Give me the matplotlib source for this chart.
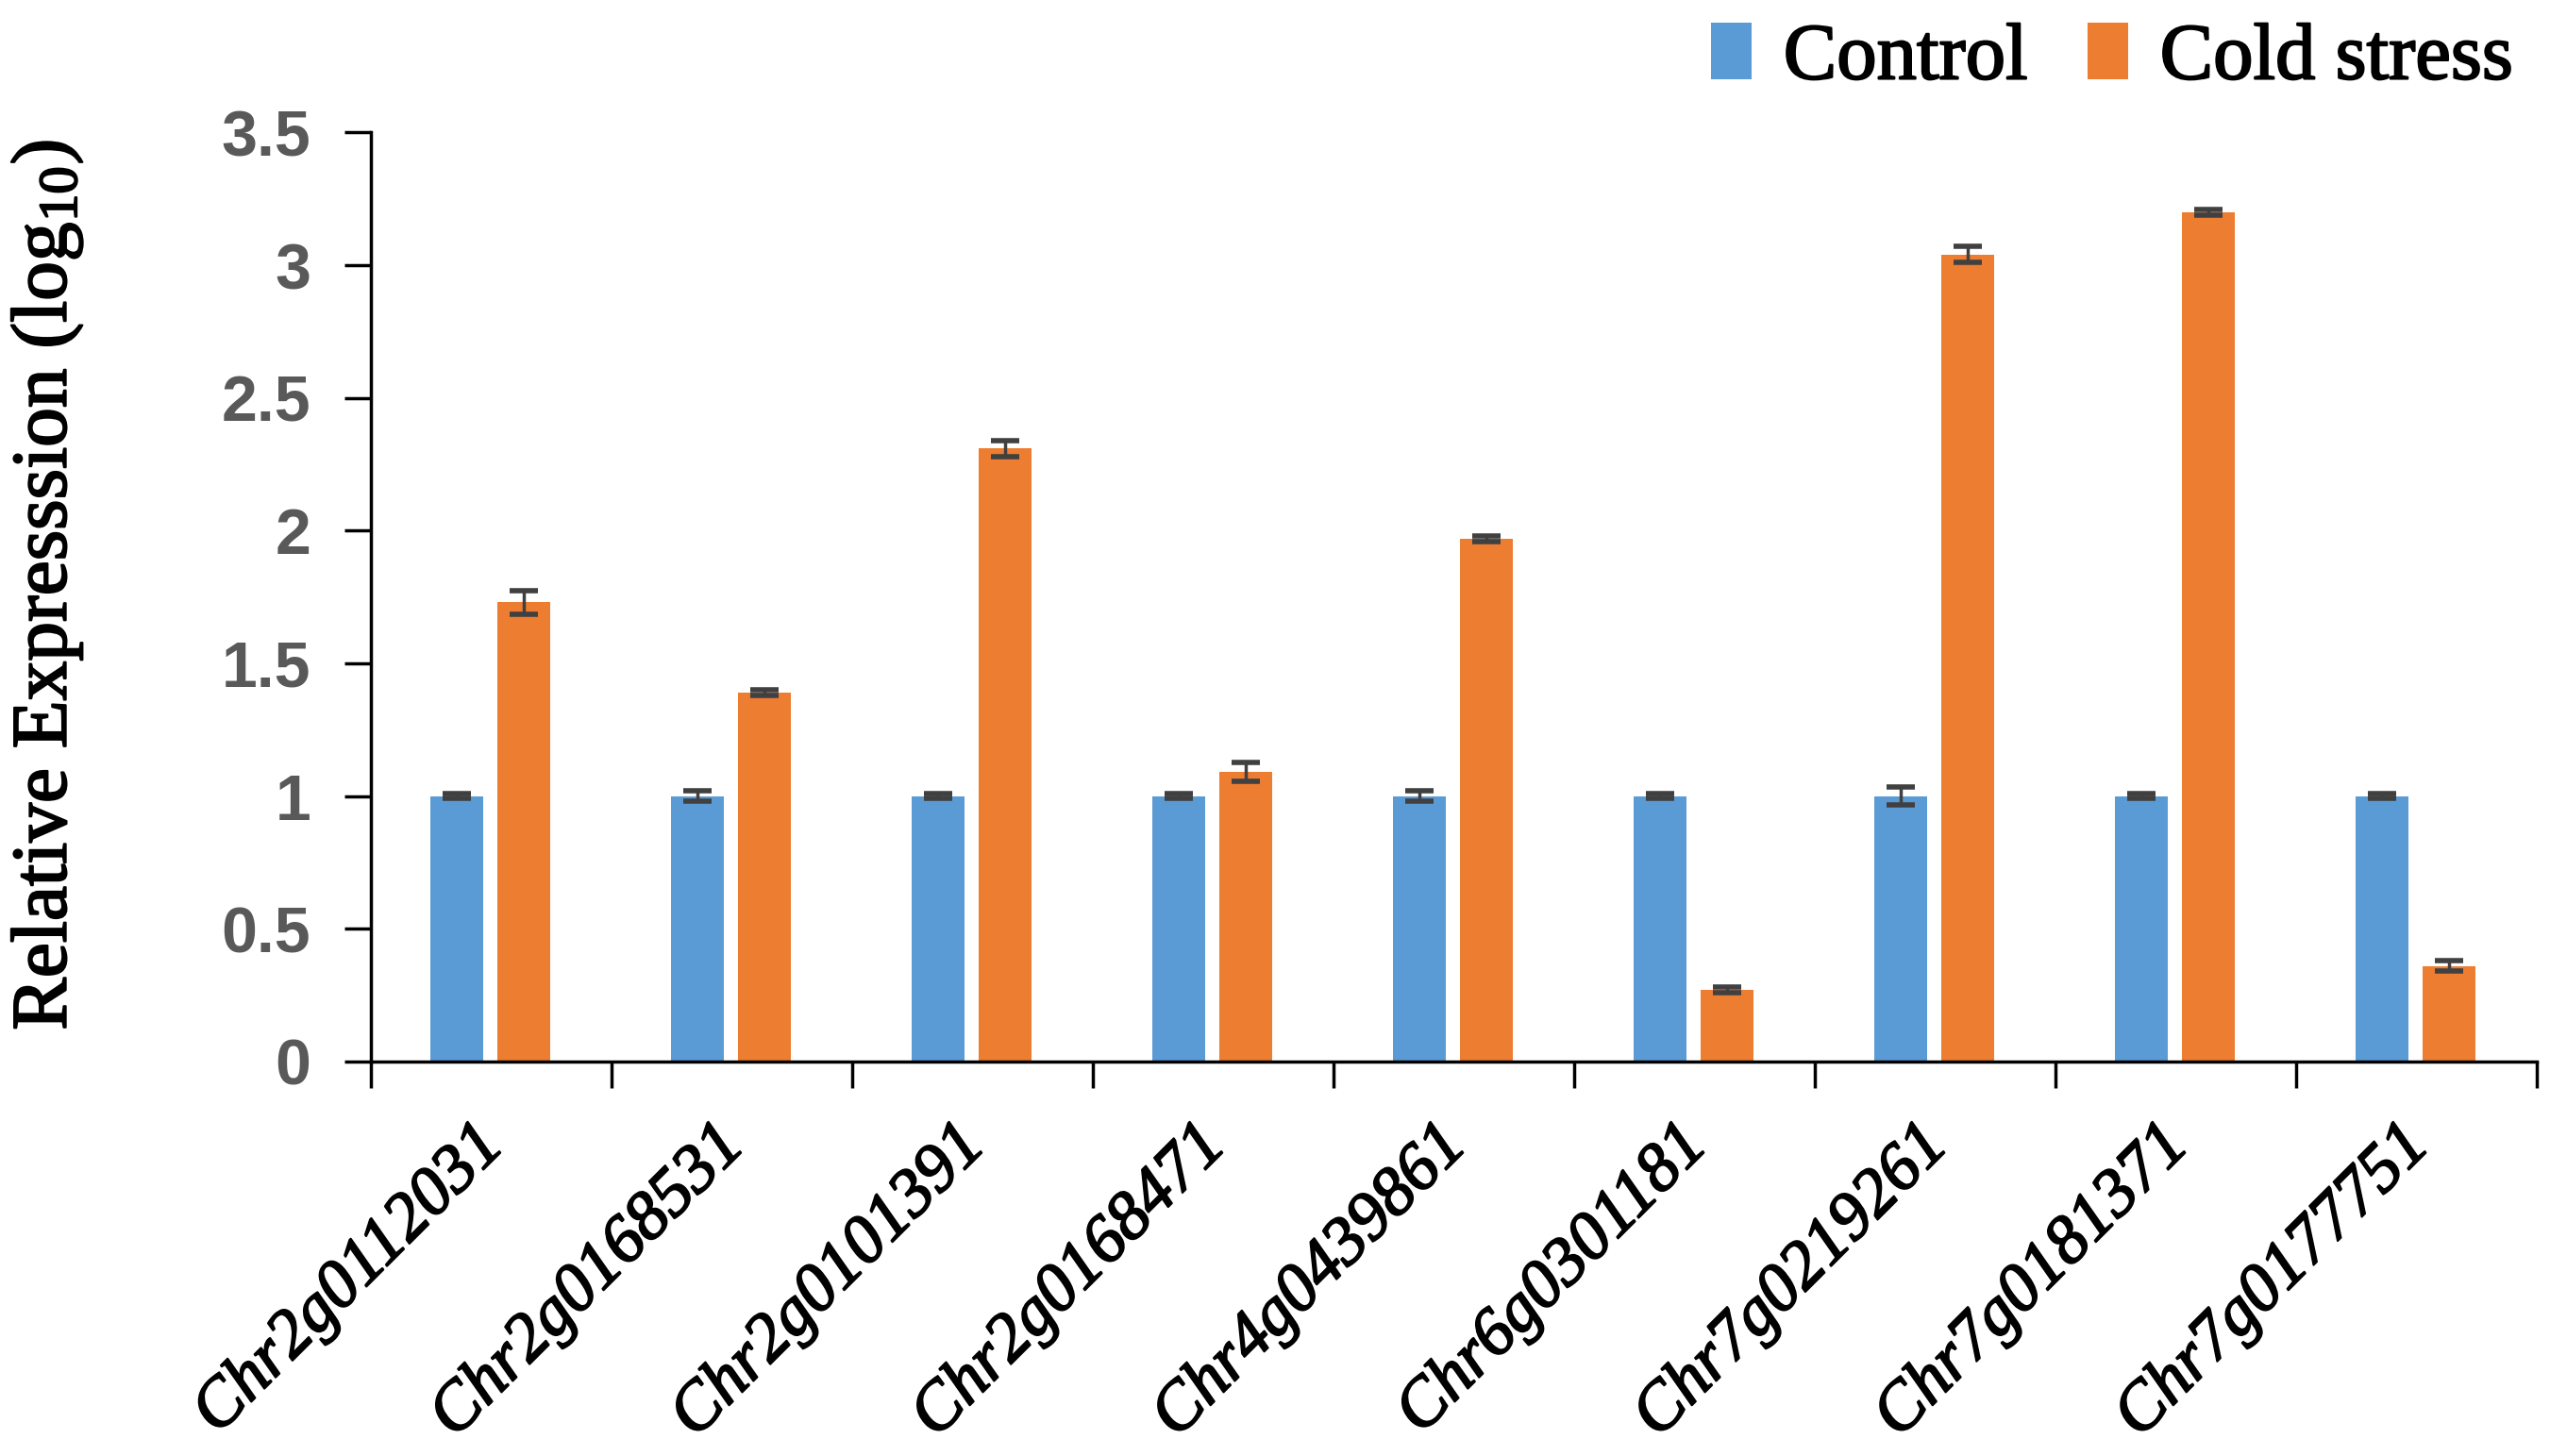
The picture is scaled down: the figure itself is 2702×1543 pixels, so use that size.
import matplotlib
matplotlib.use("Agg")
import matplotlib.pyplot as plt
import matplotlib.transforms as mtransforms
import matplotlib.patheffects as pe
import numpy as np

# --- Data ---
genes = ['Chr2g0112031', 'Chr2g0168531', 'Chr2g0101391', 'Chr2g0168471', 'Chr4g0439861',
         'Chr6g0301181', 'Chr7g0219261', 'Chr7g0181371', 'Chr7g0177751']
control = [1.0, 1.0, 1.0, 1.0, 1.0, 1.0, 1.0, 1.0, 1.0]
control_err = [0.01, 0.02, 0.01, 0.01, 0.02, 0.01, 0.035, 0.01, 0.01]
cold = [1.73, 1.39, 2.31, 1.09, 1.97, 0.27, 3.04, 3.20, 0.36]
cold_err = [0.045, 0.01, 0.03, 0.035, 0.01, 0.01, 0.03, 0.01, 0.02]
yticks = [0, 0.5, 1, 1.5, 2, 2.5, 3, 3.5]
ytick_labels = ['0', '0.5', '1', '1.5', '2', '2.5', '3', '3.5']

blue = '#5B9BD5'
orange = '#ED7D31'
err_col = '#404040'

plt.rcParams['mathtext.fontset'] = 'custom'
plt.rcParams['mathtext.rm'] = 'Liberation Serif'
plt.rcParams['mathtext.it'] = 'Liberation Serif:italic'
plt.rcParams['mathtext.bf'] = 'Liberation Serif:bold'

# slightly heavier serif text, like the original's Book Antiqua
thick = [pe.withStroke(linewidth=1.5, foreground='black')]

fig = plt.figure(figsize=(27.02, 15.43), dpi=100)
ax = fig.add_axes([0.1455, 0.271, 0.8495, 0.638])

x = np.arange(len(genes))
w = 0.22
ekw = dict(ecolor=err_col, elinewidth=2.5, capsize=11, capthick=4)
ax.bar(x - 0.145, control, w, color=blue, yerr=control_err, error_kw=ekw, label='Control')
ax.bar(x + 0.135, cold, w, color=orange, yerr=cold_err, error_kw=ekw, label='Cold stress')

ax.set_xlim(-0.5, len(genes) - 0.5)
ax.set_ylim(0, 3.5)

# major ticks on category boundaries, labels on centres
ax.set_xticks(np.arange(len(genes) + 1) - 0.5)
ax.set_xticklabels([])
ax.set_xticks(x, minor=True)
ax.set_xticklabels(genes, minor=True, rotation=45, ha='right', rotation_mode='anchor',
                   family='Liberation Serif', style='italic', fontsize=52)
ax.tick_params(axis='x', which='minor', length=0, pad=40)
ax.tick_params(axis='x', which='major', length=20, width=2.5, direction='out')
shift = mtransforms.ScaledTranslation(-0.2, 0, fig.dpi_scale_trans)
for lab in ax.get_xticklabels(minor=True):
    lab.set_transform(lab.get_transform() + shift)
    lab.set_path_effects(thick)

ax.set_yticks(yticks)
ax.set_yticklabels(ytick_labels, family='Liberation Sans', fontweight='bold',
                   fontsize=49, color='#595959')
ax.tick_params(axis='y', length=20, width=2.5, direction='out', pad=26)

for s in ['top', 'right']:
    ax.spines[s].set_visible(False)
for s in ['left', 'bottom']:
    ax.spines[s].set_linewidth(2.5)

ax.set_ylabel('Relative Expresssion (log$_{10}$)', family='Liberation Serif', fontsize=60,
              path_effects=thick)
ax.yaxis.set_label_coords(-0.132, 0.513)

leg = fig.legend(loc='upper right', bbox_to_anchor=(1.006, 1.02), ncol=2, frameon=False,
                 prop={'family': 'Liberation Serif', 'size': 61}, borderpad=0.15,
                 handlelength=0.5, handleheight=0.7, handletextpad=0.4, columnspacing=0.75)
for t in leg.get_texts():
    t.set_path_effects(thick)

fig.savefig('out.png', dpi=100)
